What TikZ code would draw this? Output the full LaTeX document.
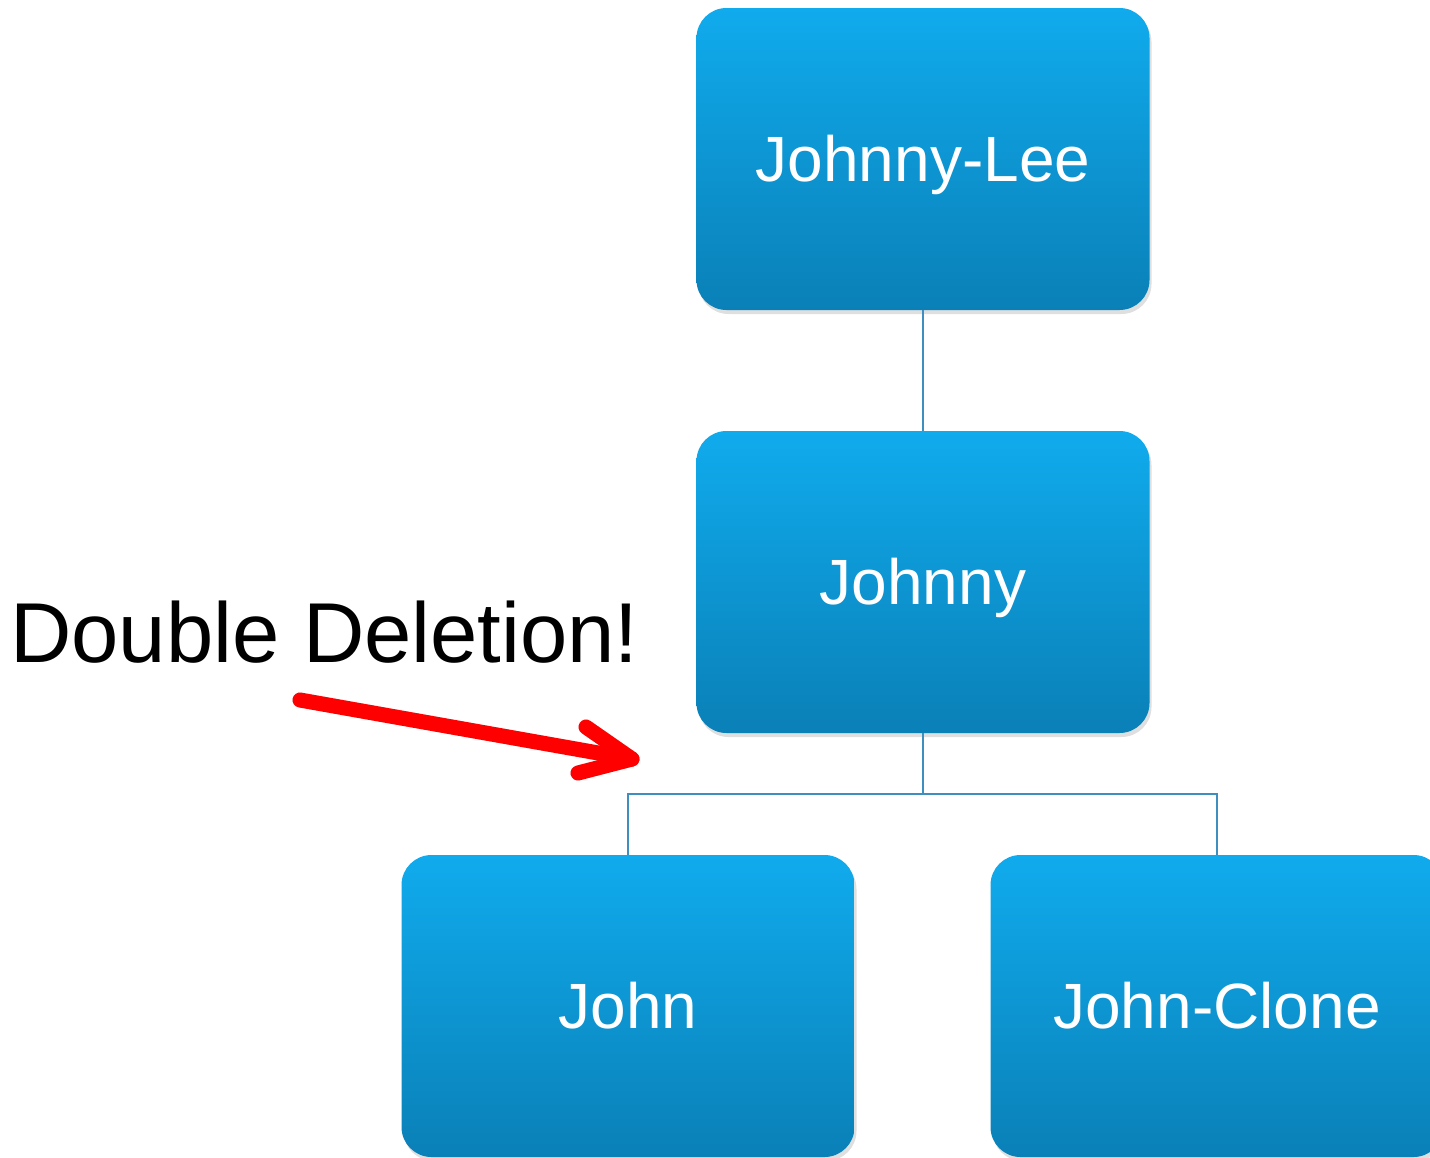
\documentclass[tikz,border=0pt]{standalone}
\usepackage{fontspec}
\setmainfont{Liberation Sans}
\usetikzlibrary{shadows}
\definecolor{boxtop}{RGB}{16,171,237}
\definecolor{boxbottom}{RGB}{10,128,183}
\definecolor{linkblue}{RGB}{62,142,192}
\definecolor{alertred}{RGB}{255,0,0}
\begin{document}
\begin{tikzpicture}[
  x=1pt, y=-1pt,
  box/.style={
    rounded corners=30pt,
    top color=boxtop,
    bottom color=boxbottom,
    minimum width=453pt,
    minimum height=302pt,
    inner sep=0pt,
    text height=46pt,
    text depth=2pt,
    text=white,
    font=\fontsize{64}{77}\selectfont,
    drop shadow={opacity=0.25, shadow xshift=2pt, shadow yshift=-4pt}
  },
  link/.style={draw=linkblue, line width=1.5pt},
  alert/.style={draw=alertred, line width=15pt, line cap=round, line join=round}
]
\useasboundingbox (0,0) rectangle (1430,1157);
\clip (0,0) rectangle (1430,1157);

\node[box] (lee) at (923,159) {Johnny-Lee};
\node[box] (johnny) at (923,582) {Johnny};
\node[box] (john) at (628,1006) {John};
\node[box] (clone) at (1217,1006) {John-Clone};

\coordinate (fork) at (923,794);
\draw[link] (lee) -- (johnny);
\draw[link] (johnny) -- (fork);
\draw[link] (john.north) |- (fork) -| (clone.north);

\node[anchor=base west, inner sep=0pt, font=\fontsize{85}{100}\selectfont] (note) at (10,662) {Double Deletion!};

\coordinate (tail) at (300,700);
\coordinate (tip) at (632,759);
\coordinate (upper) at (586,727);
\coordinate (lower) at (578,773);
\begin{scope}[shift={(2,4)}]
  \draw[alert, draw=black, opacity=0.15] (tail) -- (tip);
  \draw[alert, draw=black, opacity=0.15] (upper) -- (tip) -- (lower);
\end{scope}
\draw[alert] (tail) -- (tip);
\draw[alert] (upper) -- (tip) -- (lower);
\end{tikzpicture}
\end{document}
